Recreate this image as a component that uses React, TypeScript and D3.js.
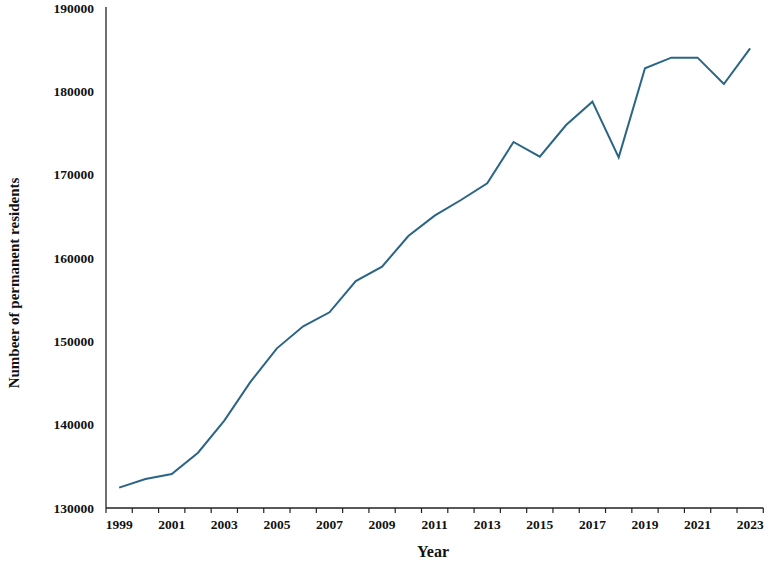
import React, { useEffect, useRef } from "react";
import * as d3 from "d3";

const years = [1999,2000,2001,2002,2003,2004,2005,2006,2007,2008,2009,2010,2011,2012,2013,2014,2015,2016,2017,2018,2019,2020,2021,2022,2023];
const residents = [132440,133480,134080,136640,140480,145160,149160,151800,153480,157240,158960,162640,165080,166960,168960,173920,172160,175960,178760,172080,182760,184040,184040,180880,185160];
const yTicks = [130000,140000,150000,160000,170000,180000,190000];
const xLabelYears = [1999,2001,2003,2005,2007,2009,2011,2013,2015,2017,2019,2021,2023];

const W = 767, H = 566;
const M = { left: 106, right: 3.7, top: 8, bottom: 58 };

export default function App() {
  const ref = useRef<SVGSVGElement>(null);
  useEffect(() => {
    const svg = d3.select(ref.current);
    svg.selectAll("*").remove();
    const x = d3.scaleBand<number>().domain(years).range([M.left, W - M.right]).padding(0);
    const y = d3.scaleLinear().domain([130000, 190000]).range([H - M.bottom, M.top]);
    const font = "'Liberation Serif', 'Times New Roman', serif";

    // y axis
    svg.append("line").attr("x1", M.left).attr("x2", M.left)
      .attr("y1", y(190000) - 1).attr("y2", y(130000))
      .attr("stroke", "#222").attr("stroke-width", 1.3);
    svg.append("g").selectAll("text").data(yTicks).join("text")
      .attr("x", 94).attr("y", d => y(d)).attr("dy", "0.35em")
      .attr("text-anchor", "end").attr("font-family", font).attr("font-weight", "bold")
      .attr("font-size", 13.5).attr("fill", "#111").text(d => String(d));

    // x axis
    const xAxisY = y(130000);
    svg.append("line").attr("x1", M.left).attr("x2", W - M.right)
      .attr("y1", xAxisY).attr("y2", xAxisY).attr("stroke", "#222").attr("stroke-width", 1.3);
    const tickXs = years.map(yr => x(yr)!).concat([x(years[years.length - 1])! + x.bandwidth()]);
    svg.append("g").selectAll("line").data(tickXs).join("line")
      .attr("x1", d => d).attr("x2", d => d).attr("y1", xAxisY).attr("y2", xAxisY + 5)
      .attr("stroke", "#222").attr("stroke-width", 1.2);
    svg.append("g").selectAll("text").data(xLabelYears).join("text")
      .attr("x", d => x(d)! + x.bandwidth() / 2).attr("y", xAxisY + 16).attr("dy", "0.35em")
      .attr("text-anchor", "middle").attr("font-family", font).attr("font-weight", "bold")
      .attr("font-size", 13.5).attr("fill", "#111").text(d => String(d));

    // line
    const line = d3.line<number>()
      .x((_, i) => x(years[i])! + x.bandwidth() / 2)
      .y(d => y(d));
    svg.append("path").datum(residents).attr("d", line)
      .attr("fill", "none").attr("stroke", "#2b6585").attr("stroke-width", 2)
      .attr("stroke-linejoin", "miter");

    // titles
    svg.append("text").attr("x", 433).attr("y", 557).attr("text-anchor", "middle")
      .attr("font-family", font).attr("font-weight", "bold").attr("font-size", 16)
      .attr("fill", "#111").text("Year");
    svg.append("text").attr("transform", `translate(14,283) rotate(-90)`)
      .attr("text-anchor", "middle").attr("dy", "0.35em")
      .attr("font-family", font).attr("font-weight", "bold").attr("font-size", 15)
      .attr("fill", "#111").text("Numbeer of permanent residents");
  }, []);
  return (
    <svg ref={ref} width={W} height={H}
      style={{ position: "absolute", left: 0, top: 0, background: "#fff" }} />
  );
}
